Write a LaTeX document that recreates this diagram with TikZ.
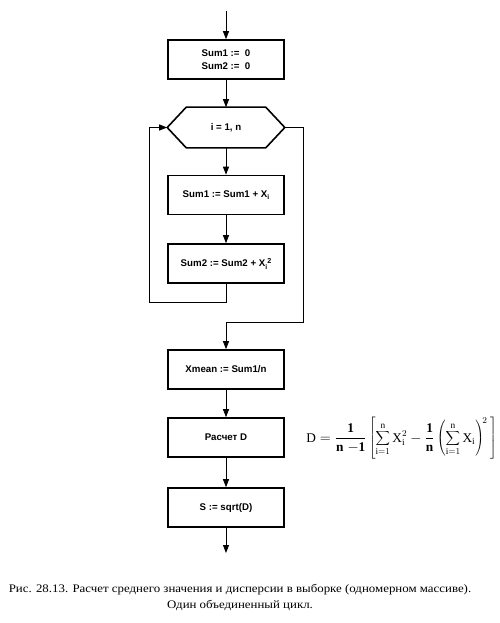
\documentclass[tikz,border=0pt]{standalone}
\usepackage{fontspec}
\setmainfont{Liberation Serif}
\setsansfont{Liberation Sans}
\usetikzlibrary{arrows.meta,calc}
\begin{document}
\begin{tikzpicture}[x=1pt,y=-1pt,
  blk/.style={draw,line width=1.6pt,minimum width=116pt,minimum height=39pt,inner sep=0pt,
    font=\sffamily\bfseries\fontsize{9.7}{13}\selectfont,align=center},
  conn/.style={line width=0.9pt,-{Triangle[length=8pt,width=6pt]}},
  captxt/.style={anchor=base,font=\addfontfeatures{FakeStretch=1.12}\fontsize{11.5}{13}\selectfont}]
\useasboundingbox (0,0) rectangle (500,623);
\coordinate (start) at (226,11);
\node[blk] (b1) at (226,59.5) {Sum1 :=\ \ 0\\Sum2 :=\ \ 0};
\node[blk,draw=none] (hex) at (226,127.5) {i = 1, n};
\draw[line width=1.6pt] (hex.west) -- ([xshift=19pt]hex.north west) -- ([xshift=-19pt]hex.north east)
  -- (hex.east) -- ([xshift=-19pt]hex.south east) -- ([xshift=19pt]hex.south west) -- cycle;
\node[blk] (s1) at (226,195) {Sum1 := Sum1 + X\raisebox{-2.4pt}{\fontsize{6.8}{6}\selectfont i}};
\node[blk] (s2) at (226,263.5) {Sum2 := Sum2 + X\raisebox{-2.4pt}{\fontsize{6.8}{6}\selectfont i}\raisebox{3.6pt}{\fontsize{7.2}{6}\selectfont 2}};
\node[blk] (xm) at (226,369.5) {Xmean := Sum1/n};
\node[blk] (rd) at (226,437.5) {Расчет D};
\node[blk] (sq) at (226,507.5) {S := sqrt(D)};
\coordinate (finish) at (226,553);
\coordinate (loopL) at (149,302);
\coordinate (loopR) at (303,322);

\draw[conn] (start) -- (b1.north);
\draw[conn] (b1.south) -- (hex.north);
\draw[conn] (hex.south) -- (s1.north);
\draw[conn] (s1.south) -- (s2.north);
\draw[conn] (s2.south) |- (loopL) |- (hex.west);
\draw[conn] (hex.east) -| (loopR) -| (xm.north);
\draw[conn] (xm.south) -- (rd.north);
\draw[conn] (rd.south) -- (sq.north);
\draw[conn] (sq.south) -- (finish);

\node[font=\fontsize{13.3}{16}\selectfont,inner sep=0pt] (formula) at (401.5,438.5)
  {$\displaystyle \mathrm{D}=\frac{\mathbf{1}}{\mathbf{n}\;\mathbf{-1}}\left[\sum_{\mathrm{i}=1}^{\mathrm{n}}\mathrm{X}_{\mathrm{i}}^{2}-\frac{\mathbf{1}}{\mathbf{n}}\left(\sum_{\mathrm{i}=1}^{\mathrm{n}}\mathrm{X}_{\mathrm{i}}\right)^{\!2}\,\right]$};

\node[captxt] (cap1) at (240,592)
  {Рис. 28.13. Расчет среднего значения и дисперсии в выборке (одномерном массиве).};
\node[captxt] (cap2) at (240,608)
  {Один объединенный цикл.};
\end{tikzpicture}
\end{document}
